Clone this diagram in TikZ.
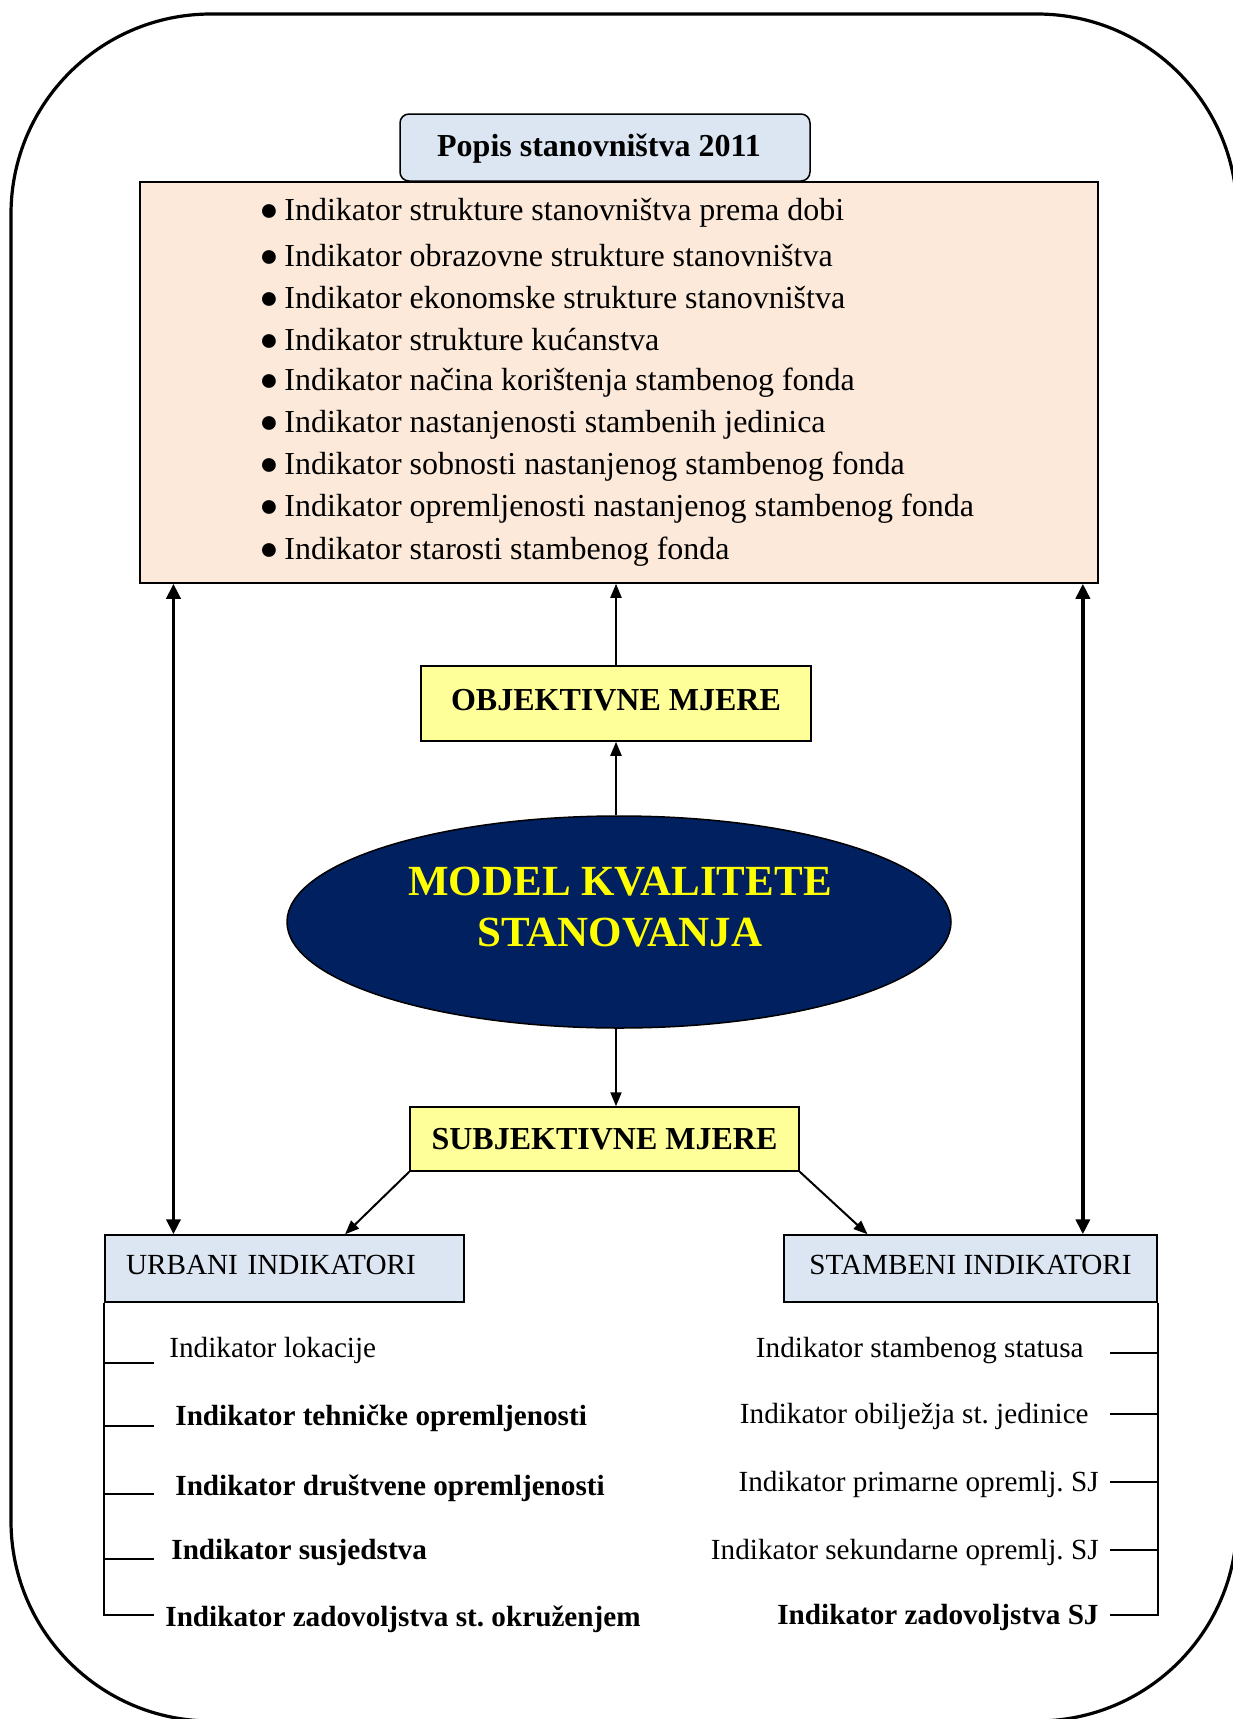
\documentclass[tikz,border=0pt]{standalone}
\usepackage{fontspec}
\setmainfont{Liberation Serif}
\frenchspacing
\definecolor{PaleBlue}{RGB}{220, 230, 242}
\definecolor{Peach}{RGB}{253, 233, 217}
\definecolor{PaleYellow}{RGB}{255, 255, 153}
\definecolor{Navy}{RGB}{0, 32, 96}
\definecolor{BrightYellow}{RGB}{255, 255, 0}
\usetikzlibrary{arrows.meta, positioning, calc, shapes.geometric}

\begin{document}
\begin{tikzpicture}[x=0.5pt, y=-0.5pt, >={Triangle[length=7pt, width=5.5pt]},
    every node/.style={font=\fontsize{14.6}{17.5}\selectfont},
    boxline/.style={draw, line width=0.75pt},
    arr/.style={->, line width=1pt},
    darr/.style={<->, line width=1.8pt, >={Triangle[length=7.5pt, width=7pt]}},
    tree/.style={line width=0.9pt},
    lab/.style={inner sep=0pt},
    blab/.style={inner sep=0pt, font=\fontsize{14.6}{17.5}\selectfont\bfseries},
    listfont/.style={font=\fontsize{16}{19}\selectfont},
    headfont/.style={font=\fontsize{16}{19}\selectfont\bfseries}]
    \path[use as bounding box, fill=white] (0,0) rectangle (1232,1719);
    % outer frame
    \draw[line width=1.6pt, rounded corners=100pt] (11,14) rectangle (1237,1721);

    % census box with list
    \node[boxline, fill=Peach, minimum width=479pt, minimum height=200.5pt] (indik) at (619,382.5) {};
    \node[boxline, fill=PaleBlue, rounded corners=4.5pt, minimum width=205pt, minimum height=33.5pt, headfont, text depth=2pt] (popis) at (605,147.5) {\hspace*{-6pt}Popis stanovništva 2011};
    \foreach \txt [count=\i from 0] in {Indikator strukture stanovništva prema dobi, Indikator obrazovne strukture stanovništva, Indikator ekonomske strukture stanovništva, Indikator strukture kućanstva, Indikator načina korištenja stambenog fonda, Indikator nastanjenosti stambenih jedinica, Indikator sobnosti nastanjenog stambenog fonda, Indikator opremljenosti nastanjenog stambenog fonda, Indikator starosti stambenog fonda}
      \node[lab, listfont, anchor=west] (b\i) at (259,213+42.3*\i) {\makebox[12.5pt][l]{●}\txt};

    % measures and model
    \node[boxline, fill=PaleYellow, minimum width=195pt, minimum height=37.5pt, headfont, text depth=3.5pt] (obj) at (616,703.5) {OBJEKTIVNE MJERE};
    \node[ellipse, draw, line width=0.75pt, fill=Navy, minimum width=332pt, minimum height=106pt] (model) at (619,922) {};
    \node[text=BrightYellow, align=center, font=\fontsize{21.5}{25.5}\selectfont\bfseries] (modeltxt) at (620,907) {MODEL KVALITETE\\STANOVANJA};
    \node[boxline, fill=PaleYellow, minimum width=194.5pt, minimum height=32pt, headfont] (subj) at (604.5,1139) {SUBJEKTIVNE MJERE};

    % indicator groups
    \node[boxline, fill=PaleBlue, minimum width=179.5pt, minimum height=33.5pt, text width=158.5pt, inner xsep=10.5pt, align=left, text depth=4pt] (urb) at (284.5,1268.5) {URBANI INDIKATORI};
    \node[boxline, fill=PaleBlue, minimum width=186.5pt, minimum height=33.5pt, text depth=4pt] (stamb) at (970.5,1268.5) {STAMBENI INDIKATORI};

    % arrows
    \draw[arr] (obj) -- (obj.north |- indik.south);
    \draw[arr] (obj.south |- model.north) -- (obj.south);
    \draw[arr] (obj.south |- model.south) -- (obj.south |- subj.north);
    \draw[arr] (subj.south west) -- ($(urb.north west)!0.668!(urb.north east)$);
    \draw[arr] (subj.south east) -- ($(stamb.north west)!0.225!(stamb.north east)$);
    \coordinate (ul) at ($(urb.north west)!0.192!(urb.north east)$);
    \coordinate (sr) at ($(stamb.north west)!0.8!(stamb.north east)$);
    \draw[darr] (ul |- indik.south) -- (ul);
    \draw[darr] (sr |- indik.south) -- (sr);

    % urban tree
    \coordinate (ut1) at (154,1363);
    \coordinate (ut2) at (154,1426);
    \coordinate (ut3) at (154,1494);
    \coordinate (ut4) at (154,1559);
    \coordinate (ut5) at (154,1615);
    \draw[tree] (urb.south west) |- (ut5);
    \foreach \k in {1,...,4} \draw[tree] (ut\k -| urb.south west) -- (ut\k);
    \node[lab, anchor=west] (u1) at (169,1350.5) {Indikator lokacije};
    \node[blab, anchor=west] (u2) at (175,1418.5) {Indikator tehničke opremljenosti};
    \node[blab, anchor=west] (u3) at (175,1488.5) {Indikator društvene opremljenosti};
    \node[blab, anchor=west] (u4) at (171,1552.5) {Indikator susjedstva};
    \node[blab, anchor=west] (u5) at (165,1619.5) {Indikator zadovoljstva st. okruženjem};

    % housing tree
    \coordinate (st1) at (1110,1353);
    \coordinate (st2) at (1110,1414);
    \coordinate (st3) at (1110,1482);
    \coordinate (st4) at (1110,1550);
    \coordinate (st5) at (1110,1615);
    \draw[tree] (stamb.south east) |- (st5);
    \foreach \k in {1,...,4} \draw[tree] (st\k -| stamb.south east) -- (st\k);
    \node[lab, anchor=east] (s1) at (1084,1350.5) {Indikator stambenog statusa};
    \node[lab, anchor=east] (s2) at (1089,1416.5) {Indikator obilježja st. jedinice};
    \node[lab, anchor=east] (s3) at (1099,1484.5) {Indikator primarne opremlj. SJ};
    \node[lab, anchor=east] (s4) at (1099,1552.5) {Indikator sekundarne opremlj. SJ};
    \node[blab, anchor=east] (s5) at (1099,1617.5) {Indikator zadovoljstva SJ};
\end{tikzpicture}
\end{document}
